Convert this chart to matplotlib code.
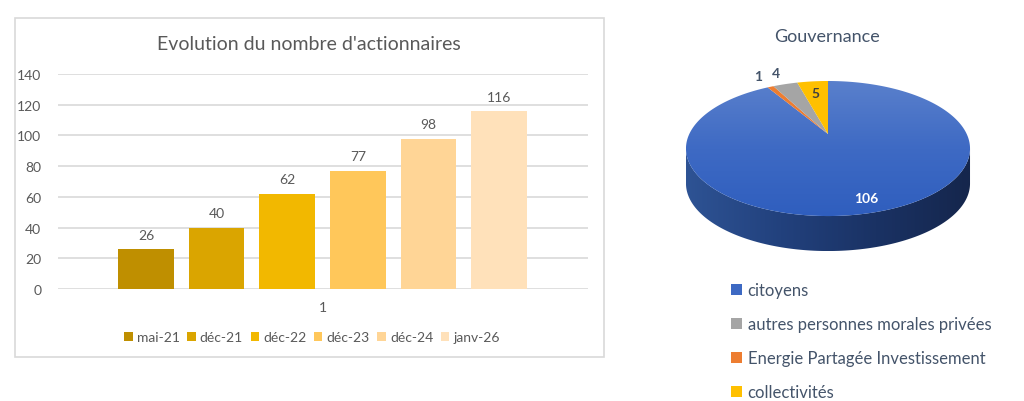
import numpy as np
import matplotlib
matplotlib.use("Agg")
import matplotlib.pyplot as plt
from matplotlib.patches import Rectangle, Patch, Polygon
from matplotlib.colors import LinearSegmentedColormap

# ---------------- data ----------------
bar_title = "Evolution du nombre d'actionnaires"
bar_series = ["mai-21", "déc-21", "déc-22", "déc-23", "déc-24", "janv-26"]
bar_values = [26, 40, 62, 77, 98, 116]
bar_category = "1"
y_ticks = [0, 20, 40, 60, 80, 100, 120, 140]

pie_title = "Gouvernance"
pie_labels = ["citoyens", "Energie Partagée Investissement",
              "autres personnes morales privées", "collectivités"]
pie_values = [106, 1, 4, 5]
legend_order = ["citoyens", "autres personnes morales privées",
                "Energie Partagée Investissement", "collectivités"]

# ---------------- style ----------------
plt.rcParams['font.family'] = ['Lato', 'DejaVu Sans']
bar_colors = ["#BF8F00", "#DAA500", "#F2B800", "#FFC75A", "#FFD596", "#FFE1BA"]
pie_colors = {"citoyens": "#3D69C3",
              "Energie Partagée Investissement": "#ED7D31",
              "autres personnes morales privées": "#A5A5A5",
              "collectivités": "#FFC000"}
grey_txt = "#595959"
slate = "#44546A"

W, H = 1024, 402
fig = plt.figure(figsize=(W / 100, H / 100), dpi=100)
fig.patch.set_facecolor("white")

# overlay axes in pixel coordinates (for the frame and 3D pie)
axp = fig.add_axes([0, 0, 1, 1])
axp.set_xlim(0, W)
axp.set_ylim(H, 0)
axp.axis("off")
axp.add_patch(Rectangle((15, 19), 589, 339, fill=False, ec="#D9D9D9", lw=1.2))

# ---------------- bar chart ----------------
ax = fig.add_axes([58 / W, 1 - 290 / H, (588 - 58) / W, (290 - 75) / H])
ax.set_zorder(2)
ax.patch.set_alpha(0)
x = np.arange(len(bar_values))
for i, (name, v, c) in enumerate(zip(bar_series, bar_values, bar_colors)):
    b = ax.bar(x[i], v, width=0.786, color=c, label=name, zorder=3)
    ax.bar_label(b, padding=6, color=grey_txt, fontsize=10)
ax.set_xlim(-1.246, 6.261)
ax.set_ylim(0, 140)
ax.set_yticks(y_ticks)
ax.yaxis.grid(True, color="#D9D9D9", lw=1.2)
ax.set_axisbelow(True)
for s in ax.spines.values():
    s.set_visible(False)
ax.tick_params(axis="y", length=0, pad=12, labelcolor=grey_txt, labelsize=10)
ax.set_xticks([x.mean()])
ax.set_xticklabels([bar_category])
ax.tick_params(axis="x", length=0, pad=9, labelcolor=grey_txt, labelsize=10)
fig.text(309 / W, 1 - 45 / H, bar_title, ha="center", va="center",
         fontsize=14, color=grey_txt)
h, l = ax.get_legend_handles_labels()
fig.legend(h, l, loc="center", bbox_to_anchor=(312 / W, 1 - 338 / H), ncol=6,
           frameon=False, fontsize=10, labelcolor=grey_txt,
           handlelength=0.6, handleheight=0.6, handletextpad=0.3,
           columnspacing=0.55)

# ---------------- 3D pie ----------------
cx, cy = 828.0, 135.0
A, B, C = 64.4, 0.215, 138.7
depth = 35.0


def proj(u, v):
    d = 1 + B * v
    return cx + C * u / d, cy - A * v / d


total = float(sum(pie_values))
fracs = np.array(pie_values) / total
ends = 90 - np.cumsum(fracs) * 360
starts = np.concatenate([[90], ends[:-1]])

# side of the cylinder (front half)
t_l = np.degrees(np.arctan2(-B, -np.sqrt(1 - B ** 2))) % 360
t_r = 360 - (t_l - 180)
ts = np.radians(np.linspace(t_l, t_r, 200))
sx, sy = proj(np.cos(ts), np.sin(ts))
side = np.concatenate([np.column_stack([sx, sy]),
                       np.column_stack([sx[::-1], sy[::-1] + depth])])
side_poly = Polygon(side, closed=True, fc="none", ec="none")
axp.add_patch(side_poly)
side_cmap = LinearSegmentedColormap.from_list(
    "side", ["#2E5394", "#22417D", "#1A3264", "#15264C"])
grad = np.linspace(0, 1, 256).reshape(1, -1)
im = axp.imshow(grad, cmap=side_cmap, extent=(sx.min(), sx.max(), sy.max() + depth, sy.min()),
                aspect="auto", zorder=1)
im.set_clip_path(side_poly)

# top face wedges
top_cmap = LinearSegmentedColormap.from_list("top", ["#5A80CC", "#3E6AC4", "#2F5EBE"])
for name, a0, a1 in zip(pie_labels, starts, ends):
    tt = np.radians(np.linspace(a0, a1, max(int(abs(a1 - a0) * 2), 4)))
    px, py = proj(np.cos(tt), np.sin(tt))
    pts = np.vstack([[cx, cy], np.column_stack([px, py])])
    if name == "citoyens":
        poly = Polygon(pts, closed=True, fc="none", ec="none", zorder=2)
        axp.add_patch(poly)
        g = np.linspace(0, 1, 256).reshape(-1, 1)
        im2 = axp.imshow(g, cmap=top_cmap, extent=(686, 972, 218, 81),
                         aspect="auto", zorder=2)
        im2.set_clip_path(poly)
    else:
        axp.add_patch(Polygon(pts, closed=True, fc=pie_colors[name],
                              ec="none", zorder=3))

# data labels
for name, v, f, a0, a1 in zip(pie_labels, pie_values, fracs, starts, ends):
    mid = np.radians((a0 + a1) / 2)
    if f > 0.5:
        r, col = 0.85, "white"
    elif f > 0.04:
        r, col = 0.75, "#404040"
    else:
        r, col = 1.27, slate
    lx, ly = proj(r * np.cos(mid), r * np.sin(mid))
    axp.text(lx, ly, str(v), ha="center", va="center", fontsize=10,
             fontweight="bold", color=col, zorder=5)

axp.text(827, 37, pie_title, ha="center", va="center", fontsize=13, color=slate)

handles = [Patch(fc=pie_colors[n], ec="none") for n in legend_order]
fig.legend(handles, legend_order, loc="upper left",
           bbox_to_anchor=(731 / W, 1 - 283 / H), frameon=False,
           fontsize=12, labelcolor=slate, handlelength=0.65, handleheight=0.65,
           handletextpad=0.35, labelspacing=1.08, borderpad=0, borderaxespad=0)

fig.savefig("out.png", dpi=100, facecolor="white")
